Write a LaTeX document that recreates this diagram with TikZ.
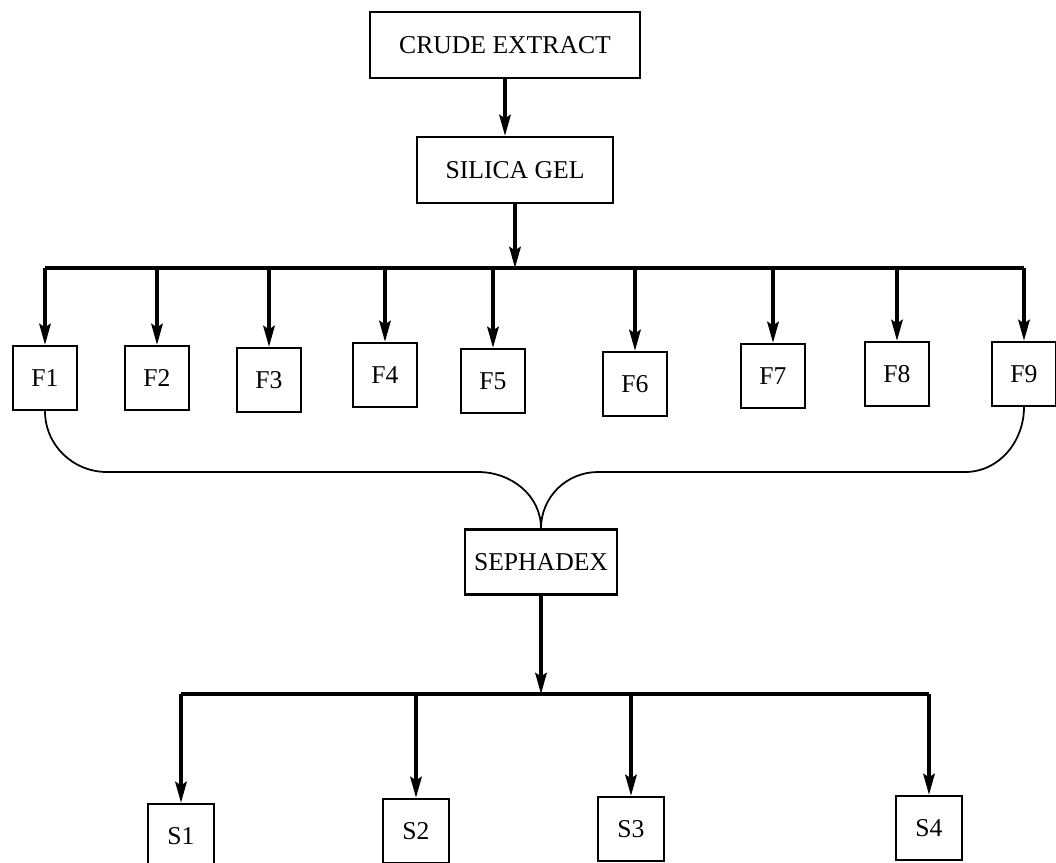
\documentclass[tikz,border=0pt]{standalone}
\usepackage{fontspec}
\setmainfont{Liberation Serif}
\usetikzlibrary{arrows.meta}

\begin{document}
\begin{tikzpicture}[x=0.02cm, y=-0.02cm,
		box/.style={rectangle, draw, line width=1.3pt, inner sep=0pt, font=\fontsize{14.6}{16}\selectfont},
		frac/.style={box, minimum width=1.28cm, minimum height=1.28cm},
		sub/.style={box, minimum width=1.32cm, minimum height=1.28cm},
		arr/.style={-{Stealth[length=12pt, width=6.5pt, inset=2pt]}, line width=2pt},
		bus/.style={line width=2pt},
		brace/.style={line width=1pt}
		]
		
		\useasboundingbox (0,0) rectangle (1056,863);
		
		\node[box, minimum width=5.4cm, minimum height=1.32cm] (crude) at (505,45) {CRUDE EXTRACT};
		\node[box, minimum width=3.92cm, minimum height=1.32cm] (silica) at (515,170) {SILICA GEL};
		\node[box, minimum width=3.04cm, minimum height=1.3cm] (sephadex) at (541,562) {SEPHADEX};
		
		\coordinate (bar) at (0,268);
		\coordinate (bar2) at (0,694);
		
		\node[frac] (F1) at (45,378) {F1};
		\node[frac] (F2) at (157,378) {F2};
		\node[frac] (F3) at (269,380) {F3};
		\node[frac] (F4) at (385,375) {F4};
		\node[frac] (F5) at (493,381) {F5};
		\node[frac] (F6) at (635,384) {F6};
		\node[frac] (F7) at (773,376) {F7};
		\node[frac] (F8) at (897,374) {F8};
		\node[frac] (F9) at (1024,374) {F9};
		
		\node[sub] (S1) at (181,836) {S1};
		\node[sub] (S2) at (416,831) {S2};
		\node[sub] (S3) at (631,829) {S3};
		\node[sub] (S4) at (929,828) {S4};
		
		\draw[arr] (crude.south) -- (crude.south |- silica.north);
		\draw[arr] (silica.south) -- (silica.south |- bar);
		\draw[bus] (F1.north |- bar) -- (F9.north |- bar);
		\foreach \f in {1,...,9} {
			\draw[arr] (F\f.north |- bar) -- (F\f.north);
		}
		
		\draw[brace] (F1.south) to[out=-90, in=180] (107,472) -- (478,472) to[out=0, in=90] (sephadex.north);
		\draw[brace] (sephadex.north) to[out=90, in=180] (598,472) -- (965,472) to[out=0, in=-90] (F9.south);
		
		\draw[arr] (sephadex.south) -- (sephadex.south |- bar2);
		\draw[bus] (S1.north |- bar2) -- (S4.north |- bar2);
		\foreach \s in {1,...,4} {
			\draw[arr] (S\s.north |- bar2) -- (S\s.north);
		}
		
	\end{tikzpicture}
\end{document}
